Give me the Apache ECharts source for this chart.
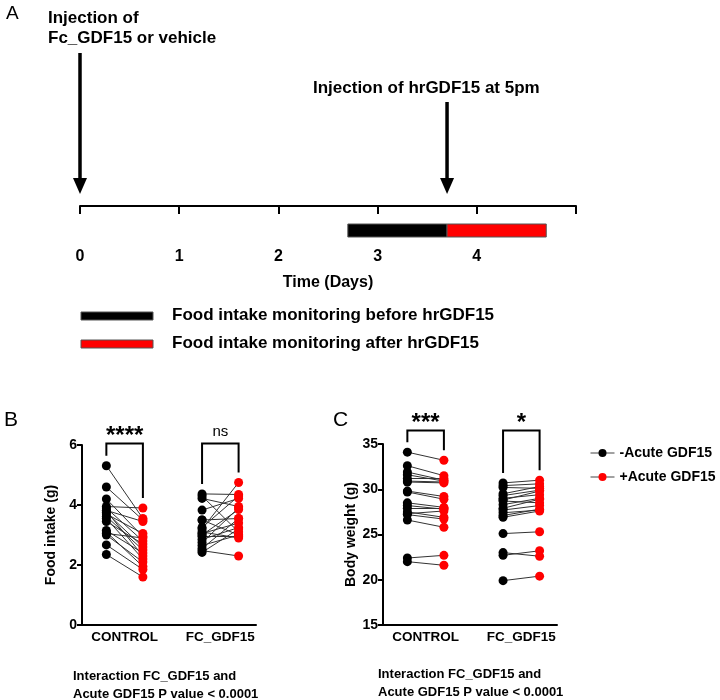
<!DOCTYPE html>
<html>
<head>
<meta charset="utf-8">
<script src="https://cdn.jsdelivr.net/npm/echarts@6/dist/echarts.min.js"></script>
<style>
  html, body { margin: 0; padding: 0; background: #fff; }
  #chart { width: 720px; height: 700px; }
</style>
</head>
<body>
<div id="chart"></div>
<script>
// ---- panel A: timeline (days) ----
const timeTicks = [0, 1, 2, 3, 4]
const injectionDays = [0, 3.7]
const monitorPeriods = [[2.7, 3.7], [3.7, 4.7]] // before / after hrGDF15
const monitorColors = ['#000000', '#ff0000']
const monitorNames = ['Food intake monitoring before hrGDF15', 'Food intake monitoring after hrGDF15']

// ---- panels B and C ----
const groups = ['CONTROL', 'FC_GDF15']
const seriesNames = ['-Acute GDF15', '+Acute GDF15']

// food intake (g)
const foodCtrlBefore = [5.31, 4.60, 4.20, 3.95, 3.90, 3.82, 3.75, 3.70, 3.62, 3.55, 3.45, 3.15, 3.10, 3.05, 3.00, 2.67, 2.35, 3.80]
const foodCtrlAfter = [3.55, 3.50, 2.95, 3.90, 2.80, 3.45, 2.60, 3.05, 2.50, 2.20, 2.70, 2.40, 1.95, 2.90, 2.10, 1.85, 1.60, 2.30]
const foodFcBefore = [4.37, 4.30, 4.22, 3.83, 3.50, 3.50, 3.20, 3.10, 3.05, 3.00, 2.95, 2.85, 2.75, 2.65, 2.55, 2.48, 2.42, 3.25]
const foodFcAfter = [4.35, 3.10, 3.95, 4.22, 3.00, 3.55, 4.75, 2.90, 3.40, 3.85, 2.95, 3.25, 3.90, 3.00, 3.55, 2.30, 3.20, 4.30]

// body weight (g)
const bwCtrlBefore = [34.1, 32.6, 31.9, 31.6, 31.2, 30.9, 30.8, 29.8, 29.7, 28.5, 28.2, 27.9, 27.5, 27.3, 27.2, 26.6, 22.4, 22.0]
const bwCtrlAfter = [33.2, 31.5, 31.0, 30.9, 31.2, 30.8, 30.7, 29.2, 28.9, 28.0, 27.8, 27.9, 26.9, 27.6, 26.7, 25.8, 22.7, 21.6]
const bwFcBefore = [30.7, 30.4, 30.2, 29.5, 29.3, 29.0, 28.8, 28.7, 28.3, 27.9, 27.7, 27.4, 27.1, 26.9, 25.1, 23.0, 22.7, 19.9]
const bwFcAfter = [31.0, 30.6, 30.1, 30.3, 29.9, 29.4, 29.8, 28.5, 29.0, 28.9, 28.2, 27.7, 27.8, 27.6, 25.3, 22.6, 23.2, 20.4]

const foodSig = ['****', 'ns']
const bwSig = ['***', '*']

// x slots inside each panel (0..1)
const slots = [[0.14, 0.35], [0.69, 0.90]]
const groupCenters = [0.245, 0.795]

const FONT = '"Liberation Sans", Arial, sans-serif'
const chart = echarts.init(document.getElementById('chart'))

function pairLines (before, after, s) {
  return before.map((b, i) => ({ coords: [[s[0], b], [s[1], after[i]]] }))
}
function dots (vals, x) {
  return vals.map(v => [x, v])
}
function maxOf (arr) { return Math.max.apply(null, arr) }

function bracketSeries (idx, data, labels) {
  return {
    type: 'custom',
    xAxisIndex: idx,
    yAxisIndex: idx,
    clip: false,
    silent: true,
    data: data,
    renderItem (params, api) {
      const a = api.coord([api.value(0), api.value(2)])
      const b = api.coord([api.value(1), api.value(3)])
      const top = api.coord([0, api.value(4)])[1]
      const label = labels[params.dataIndex]
      const star = label !== 'ns'
      return {
        type: 'group',
        children: [
          {
            type: 'polyline',
            shape: { points: [[a[0], a[1] - 10], [a[0], top], [b[0], top], [b[0], b[1] - 10]] },
            style: { stroke: '#000', lineWidth: 2, fill: null }
          },
          {
            type: 'text',
            x: (a[0] + b[0]) / 2,
            y: star ? top + 5 : top - 12,
            style: {
              text: label,
              fill: '#000',
              font: star ? 'bold 24px ' + FONT : '15px ' + FONT,
              textAlign: 'center',
              textVerticalAlign: star ? 'bottom' : 'middle'
            }
          }
        ]
      }
    }
  }
}

function panelAxes (idx, min, max, interval, name) {
  const x = {
    gridIndex: idx,
    type: 'value',
    min: 0,
    max: 1,
    axisLine: { lineStyle: { color: '#000', width: 2 } },
    axisTick: { show: false },
    splitLine: { show: false },
    axisLabel: {
      customValues: groupCenters,
      formatter: v => groups[groupCenters.indexOf(v)],
      color: '#000',
      fontWeight: 'bold',
      fontSize: 13.5,
      margin: 5
    }
  }
  const y = {
    gridIndex: idx,
    type: 'value',
    min: min,
    max: max,
    interval: interval,
    axisLine: { show: true, lineStyle: { color: '#000', width: 2 } },
    axisTick: { show: true, length: 5, lineStyle: { width: 2 } },
    splitLine: { show: false },
    axisLabel: { color: '#000', fontWeight: 'bold', fontSize: 14, margin: 5 },
    name: name,
    nameLocation: 'middle',
    nameGap: 24,
    nameTextStyle: { color: '#000', fontWeight: 'bold', fontSize: 14 }
  }
  return [x, y]
}

const [bx, by] = panelAxes(1, 0, 6, 2, 'Food intake (g)')
const [cx, cy] = panelAxes(2, 15, 35, 5, 'Body weight (g)')

function panelSeries (idx, ctrlB, ctrlA, fcB, fcA, sig, topVal) {
  return [
    {
      type: 'lines',
      coordinateSystem: 'cartesian2d',
      xAxisIndex: idx,
      yAxisIndex: idx,
      silent: true,
      z: 2,
      lineStyle: { color: '#333', width: 1, opacity: 1 },
      data: pairLines(ctrlB, ctrlA, slots[0]).concat(pairLines(fcB, fcA, slots[1]))
    },
    {
      name: seriesNames[0],
      type: 'line',
      xAxisIndex: idx,
      yAxisIndex: idx,
      z: 3,
      symbol: 'circle',
      symbolSize: 9,
      itemStyle: { color: '#000' },
      lineStyle: { width: 0, opacity: 0 },
      data: dots(ctrlB, slots[0][0]).concat(dots(fcB, slots[1][0]))
    },
    {
      name: seriesNames[1],
      type: 'line',
      xAxisIndex: idx,
      yAxisIndex: idx,
      z: 3,
      symbol: 'circle',
      symbolSize: 9,
      itemStyle: { color: '#ff0000' },
      lineStyle: { width: 0, opacity: 0 },
      data: dots(ctrlA, slots[0][1]).concat(dots(fcA, slots[1][1]))
    },
    bracketSeries(idx, [
      [slots[0][0], slots[0][1], maxOf(ctrlB), maxOf(ctrlA), topVal],
      [slots[1][0], slots[1][1], maxOf(fcB), maxOf(fcA), topVal]
    ], sig)
  ]
}

const option = {
  animation: false,
  backgroundColor: '#fff',
  textStyle: { fontFamily: FONT },
  grid: [
    { left: 80, top: 6, width: 496, height: 200 },
    { left: 82, top: 445, width: 174, height: 180 },
    { left: 383, top: 444, width: 174, height: 181 }
  ],
  xAxis: [
    {
      gridIndex: 0,
      type: 'value',
      min: 0,
      max: 5,
      interval: 1,
      axisLine: { onZero: false, lineStyle: { color: '#000', width: 2 } },
      axisTick: { show: true, length: 8, lineStyle: { width: 2 } },
      splitLine: { show: false },
      axisLabel: { customValues: timeTicks, color: '#000', fontWeight: 'bold', fontSize: 16, margin: 43 },
      name: 'Time (Days)',
      nameLocation: 'middle',
      nameGap: 69,
      nameTextStyle: { color: '#000', fontWeight: 'bold', fontSize: 16 }
    },
    bx,
    cx
  ],
  yAxis: [
    { gridIndex: 0, type: 'value', min: 0, max: 2, show: false },
    by,
    cy
  ],
  legend: {
    data: seriesNames,
    orient: 'vertical',
    left: 585,
    top: 441,
    itemWidth: 24,
    itemHeight: 10,
    itemGap: 10,
    lineStyle: { color: '#444', width: 1, opacity: 1, type: 'solid' },
    textStyle: { color: '#000', fontWeight: 'bold', fontSize: 14 }
  },
  series: [
    {
      // monitoring bars under the timeline
      type: 'custom',
      xAxisIndex: 0,
      yAxisIndex: 0,
      clip: false,
      silent: true,
      data: monitorPeriods,
      renderItem (params, api) {
        const s = api.coord([api.value(0), 0])
        const e = api.coord([api.value(1), 0])
        return {
          type: 'rect',
          shape: { x: s[0], y: s[1] + 18, width: e[0] - s[0], height: 13 },
          style: { fill: monitorColors[params.dataIndex], stroke: '#555', lineWidth: 1 }
        }
      }
    },
    {
      // injection arrows
      type: 'custom',
      xAxisIndex: 0,
      yAxisIndex: 0,
      clip: false,
      silent: true,
      data: injectionDays.map(d => [d, 0]),
      renderItem (params, api) {
        const p = api.coord([api.value(0), 0])
        const len = params.dataIndex === 0 ? 141 : 92
        const tip = p[1] - 12
        return {
          type: 'group',
          children: [
            { type: 'line', shape: { x1: p[0], y1: tip - len, x2: p[0], y2: tip - 12 }, style: { stroke: '#000', lineWidth: 3.5 } },
            { type: 'polygon', shape: { points: [[p[0] - 7, tip - 16], [p[0] + 7, tip - 16], [p[0], tip]] }, style: { fill: '#000' } }
          ]
        }
      }
    }
  ].concat(
    panelSeries(1, foodCtrlBefore, foodCtrlAfter, foodFcBefore, foodFcAfter, foodSig, 6.05),
    panelSeries(2, bwCtrlBefore, bwCtrlAfter, bwFcBefore, bwFcAfter, bwSig, 36.5)
  ),
  graphic: [
    { type: 'text', left: 6, top: 4, style: { text: 'A', font: '19px ' + FONT, fill: '#000' } },
    { type: 'text', left: 48, top: 8, style: { text: 'Injection of\nFc_GDF15 or vehicle', font: 'bold 17px ' + FONT, lineHeight: 20, fill: '#000' } },
    { type: 'text', left: 313, top: 80, style: { text: 'Injection of hrGDF15 at 5pm', font: 'bold 17px ' + FONT, fill: '#000' } },
    { type: 'rect', shape: { x: 81, y: 312, width: 72, height: 8 }, style: { fill: monitorColors[0], stroke: '#555', lineWidth: 1 } },
    { type: 'rect', shape: { x: 81, y: 340, width: 72, height: 8 }, style: { fill: monitorColors[1], stroke: '#555', lineWidth: 1 } },
    { type: 'text', left: 172, top: 307, style: { text: monitorNames[0], font: 'bold 17px ' + FONT, fill: '#000' } },
    { type: 'text', left: 172, top: 335, style: { text: monitorNames[1], font: 'bold 17px ' + FONT, fill: '#000' } },
    { type: 'text', left: 4, top: 410, style: { text: 'B', font: '21px ' + FONT, fill: '#000' } },
    { type: 'text', left: 333, top: 410, style: { text: 'C', font: '21px ' + FONT, fill: '#000' } },
    { type: 'text', left: 73, top: 667, style: { text: 'Interaction FC_GDF15 and\nAcute GDF15 P value < 0.0001', font: 'bold 13px ' + FONT, lineHeight: 18, fill: '#000' } },
    { type: 'text', left: 378, top: 665, style: { text: 'Interaction FC_GDF15 and\nAcute GDF15 P value < 0.0001', font: 'bold 13px ' + FONT, lineHeight: 18, fill: '#000' } }
  ]
}

chart.setOption(option)
</script>
</body>
</html>
